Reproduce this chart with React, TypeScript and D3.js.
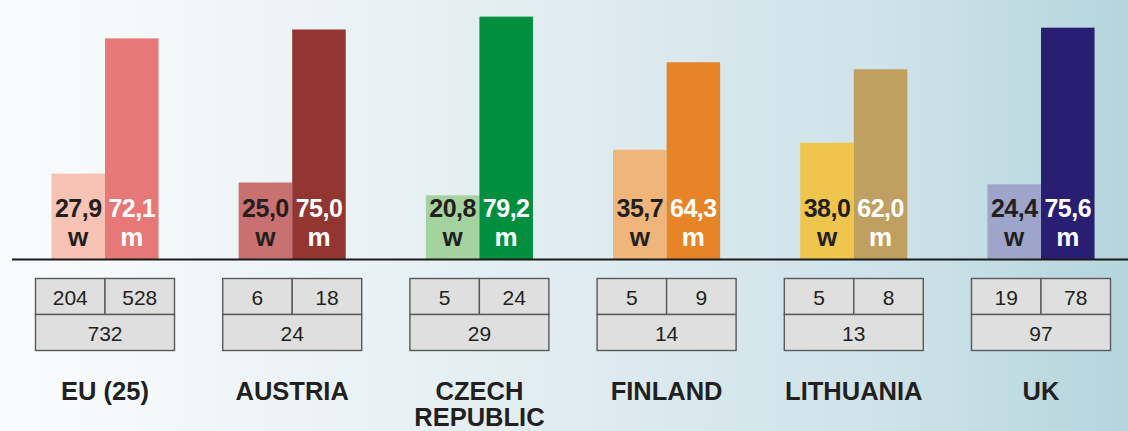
import React, { useRef, useEffect } from 'react';
import * as d3 from 'd3';

const countries = ['EU (25)', 'AUSTRIA', 'CZECH REPUBLIC', 'FINLAND', 'LITHUANIA', 'UK'];
const womenPct = [27.9, 25.0, 20.8, 35.7, 38.0, 24.4];
const menPct = [72.1, 75.0, 79.2, 64.3, 62.0, 75.6];
const womenCount = [204, 6, 5, 5, 5, 19];
const menCount = [528, 18, 24, 9, 8, 78];
const totalCount = [732, 24, 29, 14, 13, 97];
const womenColors = ['#f7c3b5', '#c97170', '#a4d3a0', '#efb57b', '#efc54e', '#9ea5cb'];
const menColors = ['#e87777', '#933531', '#008f3f', '#e88428', '#c0a060', '#2a1e73'];
const countryLines = [['EU (25)'], ['AUSTRIA'], ['CZECH', 'REPUBLIC'], ['FINLAND'], ['LITHUANIA'], ['UK']];

const W = 1128;
const H = 431;
const FONT = '"Liberation Sans", Arial, sans-serif';
const DARK = '#231f20';

const App = () => {
  const ref = useRef<SVGSVGElement>(null);

  useEffect(() => {
    if (!ref.current) return;
    const svg = d3.select(ref.current).html('');

    const baseY = 259;

    // background gradient, white on the left to pale blue on the right
    const defs = svg.append('defs');
    const grad = defs.append('linearGradient').attr('id', 'bg').attr('x1', 0).attr('x2', 1).attr('y1', 0).attr('y2', 0);
    grad.append('stop').attr('offset', '0%').attr('stop-color', '#fafcfd');
    grad.append('stop').attr('offset', '45%').attr('stop-color', '#e3eef2');
    grad.append('stop').attr('offset', '80%').attr('stop-color', '#cde2e8');
    grad.append('stop').attr('offset', '100%').attr('stop-color', '#b5d5dd');
    svg.append('rect').attr('width', W).attr('height', H).attr('fill', 'url(#bg)');

    const x = d3.scaleBand()
      .domain(countries)
      .range([11.4, 11.4 + 187.2 * 6])
      .paddingInner(0.428)
      .paddingOuter(0.214);

    const sub = d3.scaleBand().domain(['w', 'm']).range([0, x.bandwidth()]);

    const y = d3.scaleLinear().domain([0, 100]).range([baseY, baseY - 306]);

    const data = countries.map((c, i) => ({
      country: c,
      i,
      bars: [
        { key: 'w', value: womenPct[i], color: womenColors[i], text: DARK },
        { key: 'm', value: menPct[i], color: menColors[i], text: '#ffffff' },
      ],
    }));

    const groups = svg.selectAll('.grp')
      .data(data)
      .enter().append('g')
      .attr('class', 'grp')
      .attr('transform', d => `translate(${x(d.country)},0)`);

    const bar = groups.selectAll('.bar')
      .data(d => d.bars)
      .enter().append('g')
      .attr('class', 'bar');

    bar.append('rect')
      .attr('x', d => sub(d.key)!)
      .attr('y', d => y(d.value))
      .attr('width', sub.bandwidth())
      .attr('height', d => baseY - y(d.value))
      .attr('fill', d => d.color);

    bar.append('text')
      .attr('x', d => sub(d.key)! + sub.bandwidth() / 2)
      .attr('y', 217)
      .attr('text-anchor', 'middle')
      .attr('font-family', FONT)
      .attr('font-weight', 'bold')
      .attr('font-size', 25)
      .attr('letter-spacing', -0.5)
      .attr('fill', d => d.text)
      .text(d => d3.format('.1f')(d.value).replace('.', ','));

    bar.append('text')
      .attr('x', d => sub(d.key)! + sub.bandwidth() / 2)
      .attr('y', 246)
      .attr('text-anchor', 'middle')
      .attr('font-family', FONT)
      .attr('font-weight', 'bold')
      .attr('font-size', 26)
      .attr('fill', d => d.text)
      .text(d => d.key);

    // baseline
    svg.append('line')
      .attr('x1', 12).attr('x2', W)
      .attr('y1', baseY + 0.5).attr('y2', baseY + 0.5)
      .attr('stroke', '#1a1a1a')
      .attr('stroke-width', 2);

    // count tables under each pair
    const tW = 139;
    const rowH = 36;
    const tTop = 278.5;
    const tables = svg.selectAll('.tbl')
      .data(data)
      .enter().append('g')
      .attr('class', 'tbl')
      .attr('transform', d => `translate(${x(d.country)! + x.bandwidth() / 2 - tW / 2},${tTop})`);

    const cells = (d: any) => [
      { cx: 0, cy: 0, w: tW / 2, v: womenCount[d.i] },
      { cx: tW / 2, cy: 0, w: tW / 2, v: menCount[d.i] },
      { cx: 0, cy: rowH, w: tW, v: totalCount[d.i] },
    ];

    tables.selectAll('rect')
      .data(cells)
      .enter().append('rect')
      .attr('x', c => c.cx)
      .attr('y', c => c.cy)
      .attr('width', c => c.w)
      .attr('height', rowH)
      .attr('fill', '#dfdfdf')
      .attr('stroke', '#58595b')
      .attr('stroke-width', 1.4);

    tables.selectAll('text')
      .data(cells)
      .enter().append('text')
      .attr('x', c => c.cx + c.w / 2)
      .attr('y', c => c.cy + 26.5)
      .attr('text-anchor', 'middle')
      .attr('font-family', FONT)
      .attr('font-size', 21)
      .attr('fill', DARK)
      .text(c => c.v);

    // country names
    const names = svg.selectAll('.name')
      .data(data)
      .enter().append('text')
      .attr('class', 'name')
      .attr('x', d => x(d.country)! + x.bandwidth() / 2)
      .attr('y', 400)
      .attr('text-anchor', 'middle')
      .attr('font-family', FONT)
      .attr('font-weight', 'bold')
      .attr('font-size', 25.5)
      .attr('fill', DARK);

    names.selectAll('tspan')
      .data(d => countryLines[d.i].map((t, k) => ({ t, k, cx: x(d.country)! + x.bandwidth() / 2 })))
      .enter().append('tspan')
      .attr('x', s => s.cx)
      .attr('dy', s => (s.k === 0 ? 0 : 26))
      .text(s => s.t);
  }, []);

  return (
    <div style={{ position: 'absolute', left: 0, top: 0, width: W, height: H, overflow: 'hidden' }}>
      <svg ref={ref} width={W} height={H} style={{ display: 'block' }}></svg>
    </div>
  );
};

export default App;
